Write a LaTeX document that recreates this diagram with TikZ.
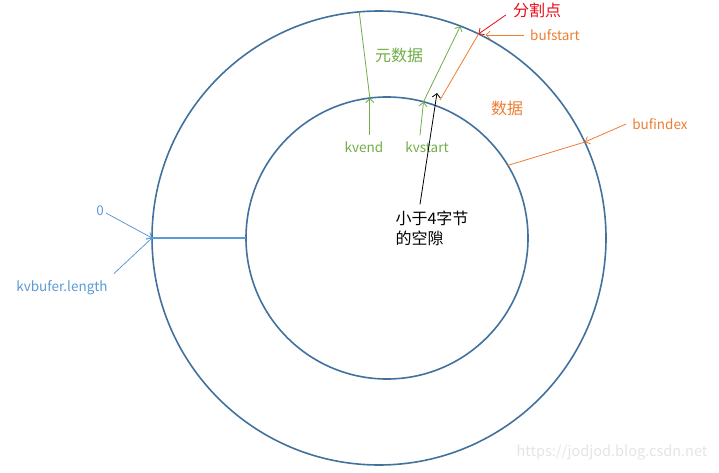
\documentclass[tikz,border=0pt]{standalone}
\usepackage{fontspec}
\setmainfont{Noto Sans CJK SC}
\usetikzlibrary{arrows.meta}
\definecolor{ringblue}{RGB}{65,113,156}
\definecolor{zeroblue}{RGB}{91,155,213}
\definecolor{metagreen}{RGB}{112,173,71}
\definecolor{dataorange}{RGB}{237,125,49}
\definecolor{splitred}{RGB}{235,10,20}
\definecolor{markgray}{RGB}{228,228,228}

\begin{document}
\begin{tikzpicture}[
    x=1pt, y=-1pt,
    ring/.style={circle, draw=ringblue, line width=1.6pt, inner sep=0pt, outer sep=0pt},
    note/.style={font=\fontsize{13.5}{18}\selectfont, inner sep=2pt},
    cjknote/.style={font=\fontsize{16}{20}\selectfont, inner sep=2pt},
    link/.style={line width=0.8pt},
    arrow/.style={-{Straight Barb[length=4pt, width=8pt]}, line width=0.8pt},
]
\useasboundingbox (0,0) rectangle (719,473);

% Buffer rings
\node[ring, minimum size=454pt] (outer) at (379,238) {};
\node[ring, minimum size=282pt] (inner) at (387,238) {};

% Labels
\node[cjknote, text=metagreen] (meta) at (399,55) {元数据};
\node[cjknote, text=dataorange] (data) at (507,108) {数据};
\node[cjknote, text=splitred] (split) at (537,10) {分割点};
\node[note, text=dataorange] (bufstart) at (555,35) {bufstart};
\node[note, text=dataorange] (bufindex) at (660,124) {bufindex};
\node[note, text=metagreen] (kvend) at (364,147) {kvend};
\node[note, text=metagreen] (kvstart) at (427,147) {kvstart};
\node[cjknote, align=left] (gap) at (432,228) {小于4字节\\的空隙};
\node[note, text=zeroblue] (zero) at (100,211) {0};
\node[note, text=zeroblue] (length) at (62,288) {kvbufer.length};
\node[font=\fontsize{14.5}{18}\selectfont, text=markgray] (mark) at (612,453) {https://jodjod.blog.csdn.net};

% Metadata side
\draw[link, metagreen] (inner.97) -- (outer.95);
\draw[arrow, metagreen] ([yshift=4pt]kvend.north -| inner.97) -- (inner.97);
\draw[arrow, metagreen] ([xshift=-7pt, yshift=4pt]kvstart.north) -- (inner.75);
\draw[arrow, metagreen] (inner.75) -- (outer.69);

% Split point and data side
\coordinate (splitlow) at (440,100);
\draw[link, dataorange] (splitlow) -- (outer.64);
\draw[arrow, splitred] ([shift={(-5,5)}]split.west) -- (outer.64);
\draw[arrow, dataorange] ([xshift=-4pt]bufstart.west) -- (bufstart.west -| outer.62);
\draw[link, dataorange] (inner.31) -- (outer.25);
\draw[arrow, dataorange] ([xshift=-4pt]bufindex.west) -- (outer.25);

% Gap
\coordinate (gaptip) at (437,93);
\draw[arrow, black] ([xshift=-12pt, yshift=4pt]gap.north) -- (gaptip);

% Start / end of buffer
\draw[zeroblue, line width=1.6pt] (outer.west) -- (inner.west);
\draw[arrow, zeroblue] ([yshift=-2pt]zero.east) -- (outer.west);
\draw[arrow, zeroblue] ([shift={(4,-5)}]length.north east) -- (outer.west);

\end{tikzpicture}
\end{document}
